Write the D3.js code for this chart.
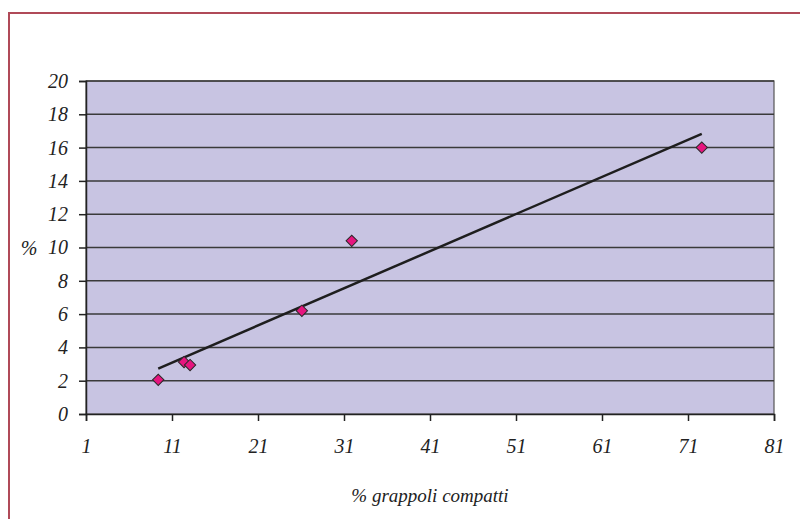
<!DOCTYPE html>
<html>
<head>
<meta charset="utf-8">
<script src="https://cdn.jsdelivr.net/npm/d3@7"></script>
<style>
  html, body { margin: 0; padding: 0; background: #ffffff; }
  svg { display: block; }
  svg text { font-family: "Liberation Serif", "DejaVu Serif", serif; font-style: italic; }
</style>
</head>
<body>
<svg id="chart" width="800" height="519"></svg>
<script>
// Percent of compact bunches (x) against percent (y)
const compactBunches = [9.4, 12.4, 13.1, 26.1, 31.9, 72.6];
const percentValues  = [2.05, 3.12, 2.94, 6.2, 10.4, 16.0];
const xTicks = [1, 11, 21, 31, 41, 51, 61, 71, 81];
const yTicks = [0, 2, 4, 6, 8, 10, 12, 14, 16, 18, 20];
const xTitle = "% grappoli compatti";
const yTitle = "%";

const FONT = '"Liberation Serif", "DejaVu Serif", serif';
const svg = d3.select("#chart");
const W = 800, H = 519;
const plot = { left: 86, right: 774, top: 81, bottom: 414 };

// outer frame
svg.append("rect")
  .attr("x", 9).attr("y", 13)
  .attr("width", W + 20).attr("height", H + 20)
  .attr("fill", "none")
  .attr("stroke", "#b04a58")
  .attr("stroke-width", 2);

const x = d3.scaleLinear().domain([1, 81]).range([plot.left, plot.right]);
const y = d3.scaleLinear().domain([0, 20]).range([plot.bottom, plot.top]);

// plot background
svg.append("rect")
  .attr("x", plot.left).attr("y", plot.top)
  .attr("width", plot.right - plot.left)
  .attr("height", plot.bottom - plot.top)
  .attr("fill", "#c8c4e2")
  .attr("stroke", "#555").attr("stroke-width", 1.2);

// horizontal grid lines
svg.append("g").selectAll("line")
  .data(yTicks.filter(d => d > 0))
  .join("line")
  .attr("x1", plot.left).attr("x2", plot.right)
  .attr("y1", d => y(d)).attr("y2", d => y(d))
  .attr("stroke", "#3a3a3a").attr("stroke-width", 1.5);

function styleAxis(g) {
  g.select(".domain").attr("stroke", "#222").attr("stroke-width", 1.5);
  g.selectAll(".tick line").attr("stroke", "#222").attr("stroke-width", 1.5);
  g.selectAll(".tick text")
    .style("font-family", FONT)
    .style("font-style", "italic")
    .style("font-size", "20px")
    .attr("fill", "#222");
}

// y axis
svg.append("g")
  .attr("transform", `translate(${plot.left},0)`)
  .call(d3.axisLeft(y).tickValues(yTicks).tickSize(7).tickPadding(11).tickFormat(d3.format("d")))
  .call(styleAxis);

// x axis
svg.append("g")
  .attr("transform", `translate(0,${plot.bottom})`)
  .call(d3.axisBottom(x).tickValues(xTicks).tickSize(7).tickPadding(18).tickFormat(d3.format("d")))
  .call(styleAxis);

// axis titles
svg.append("text")
  .attr("x", 430).attr("y", 502)
  .attr("text-anchor", "middle")
  .style("font-family", FONT)
  .style("font-style", "italic")
  .style("font-size", "19px")
  .attr("fill", "#222")
  .text(xTitle);
svg.append("text")
  .attr("x", 29).attr("y", y(10) + 7)
  .attr("text-anchor", "middle")
  .style("font-family", FONT)
  .style("font-style", "italic")
  .style("font-size", "20px")
  .attr("fill", "#222")
  .text(yTitle);

// least-squares trend line
const n = compactBunches.length;
const mx = d3.mean(compactBunches), my = d3.mean(percentValues);
let sxy = 0, sxx = 0;
for (let i = 0; i < n; i++) {
  sxy += (compactBunches[i] - mx) * (percentValues[i] - my);
  sxx += (compactBunches[i] - mx) ** 2;
}
const slope = sxy / sxx, intercept = my - slope * mx;
const [xMin, xMax] = d3.extent(compactBunches);
svg.append("line")
  .attr("x1", x(xMin)).attr("y1", y(intercept + slope * xMin))
  .attr("x2", x(xMax)).attr("y2", y(intercept + slope * xMax))
  .attr("stroke", "#1e1e1e").attr("stroke-width", 2.5);

// data points as diamonds
const points = compactBunches.map((v, i) => ({ x: v, y: percentValues[i] }));
svg.append("g").selectAll("path")
  .data(points)
  .join("path")
  .attr("d", d3.symbol().type(d3.symbolSquare).size(64))
  .attr("transform", d => `translate(${x(d.x)},${y(d.y)}) rotate(45)`)
  .attr("fill", "#e6157f")
  .attr("stroke", "#2a2a2a").attr("stroke-width", 1);
</script>
</body>
</html>
